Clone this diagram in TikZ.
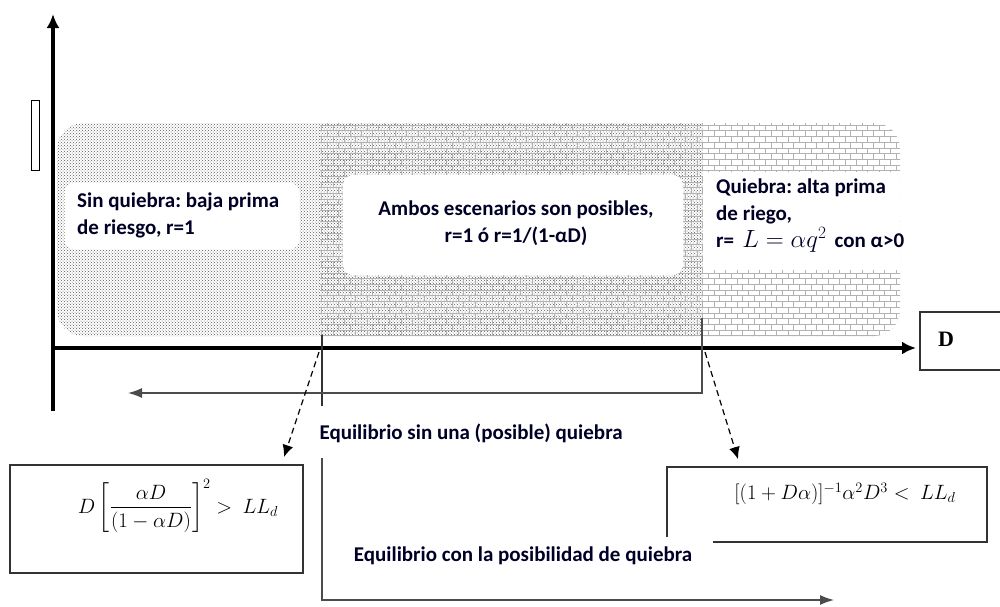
\documentclass[tikz,border=0pt]{standalone}
\usepackage{amsmath}
\usepackage{fontspec}
\setmainfont{Carlito}
\newfontfamily\dserif{Liberation Serif}
\usetikzlibrary{patterns,arrows.meta}
\frenchspacing
\begin{document}
\begin{tikzpicture}[x=1pt,y=-1pt,
  lbl/.style={font=\bfseries\fontsize{21}{27}\selectfont, text=black!85!blue, inner sep=0pt},
  wbox/.style={fill=white, rounded corners=10, inner sep=0pt},
  axis/.style={line width=3.6pt, -{Latex[length=14pt,width=13pt]}},
  thin/.style={line width=1.1pt, draw=black!80},
  garrow/.style={line width=1.3pt, draw=black!70, -{Latex[length=14pt,width=10pt]}},
  darrow/.style={line width=1.2pt, dashed, dash pattern=on 6pt off 4pt, -{Latex[length=12pt,width=11pt]}},
  fbox/.style={draw=black!80, line width=1.1pt, inner sep=0pt},
  fml/.style={inner sep=0pt}]
\useasboundingbox (0,0) rectangle (1000,606);
% shaded regions
\begin{scope}
  \clip[rounded corners=26] (57,123) rectangle (900,336);
  \fill[pattern=crosshatch dots, pattern color=black!65] (55,120) rectangle (905,340);
  \fill[white] (703,120) rectangle (905,340);
  \fill[pattern=bricks, pattern color=gray!60] (320,120) rectangle (905,340);
  \fill[white] (703,172) rectangle (905,270);
\end{scope}
% white boxes
\node[wbox, minimum width=235, minimum height=67] (b1) at (182,216) {};
\node[lbl, align=left, anchor=west] (t1) at (77,215) {Sin quiebra: baja prima\\de riesgo, r=1};
\node[wbox, minimum width=340, minimum height=100] (b2) at (513,225) {};
\node[lbl, align=center] (t2) at (516,223) {Ambos escenarios son posibles,\\r=1 ó r=1/(1-αD)};
\node[lbl, align=left, anchor=west] (t3) at (716,216) {Quiebra: alta prima\\de riego,\\r= \,{\mdseries\fontsize{25}{27}\selectfont$L=\alpha q^2$}\, con α>0};
% axes
\coordinate (o) at (53,348);
\coordinate (ytop) at (53,14);
\coordinate (ybot) at (53,411);
\coordinate (xend) at (916,348);
\draw[axis] (ybot) -- (ytop);
\draw[line width=3.6pt] (51.2,348) -- (o);
\draw[axis] (o) -- (xend);
% small rectangle near y axis
\node[draw, line width=1pt, minimum width=8, minimum height=70, inner sep=0pt] (sr) at (35,135) {};
% D box
\node[draw=black!80, line width=1.1pt, minimum width=82, minimum height=58, inner sep=0pt] (dbox) at (961,341) {};
\node[font=\dserif\bfseries\fontsize{22}{24}\selectfont, inner sep=0pt] (dlab) at (946,339) {D};
% threshold lines
\coordinate (v1a) at (322,335);
\coordinate (v1b) at (322,406);
\draw[thin] (v1a) -- (v1b);
\coordinate (v2a) at (702,318);
\coordinate (v2b) at (702,393);
\coordinate (v2c) at (128,393);
\draw[garrow] (v2a) -- (v2b) -- (v2c);
% labels
\node[lbl] (eq1) at (471,433) {Equilibrio sin una (posible) quiebra};
\node[lbl] (eq2) at (523,556) {Equilibrio con la posibilidad de quiebra};
\coordinate (v3a) at (322,458);
\coordinate (v3b) at (322,600);
\coordinate (v3c) at (834,600);
\draw[garrow] (v3a) -- (v3b) -- (v3c);
% left formula box
\node[fbox, minimum width=293, minimum height=108] (f1) at (156.5,519) {};
\node[fml, font=\fontsize{20}{24}\selectfont] (f1t) at (178,506) {$D\left[\dfrac{\alpha D}{(1-\alpha D)}\right]^2 >\ LL_d$};
% right formula box (open corner)
\coordinate (r1) at (667,537);
\coordinate (r2) at (667,467);
\coordinate (r3) at (987,467);
\coordinate (r4) at (987,542);
\coordinate (r5) at (713,542);
\draw[thin] (r1) -- (r2) -- (r3) -- (r4) -- (r5);
\node[fml, font=\fontsize{21}{24}\selectfont] (f2t) at (845,494) {$[(1+D\alpha)]^{-1}\alpha^2D^3<\ LL_d$};
% dashed arrows
\coordinate (d1a) at (319,352);
\coordinate (d1b) at (284,457);
\coordinate (d2a) at (705,352);
\coordinate (d2b) at (738,459);
\draw[darrow] (d1a) -- (d1b);
\draw[darrow] (d2a) -- (d2b);
\end{tikzpicture}
\end{document}
